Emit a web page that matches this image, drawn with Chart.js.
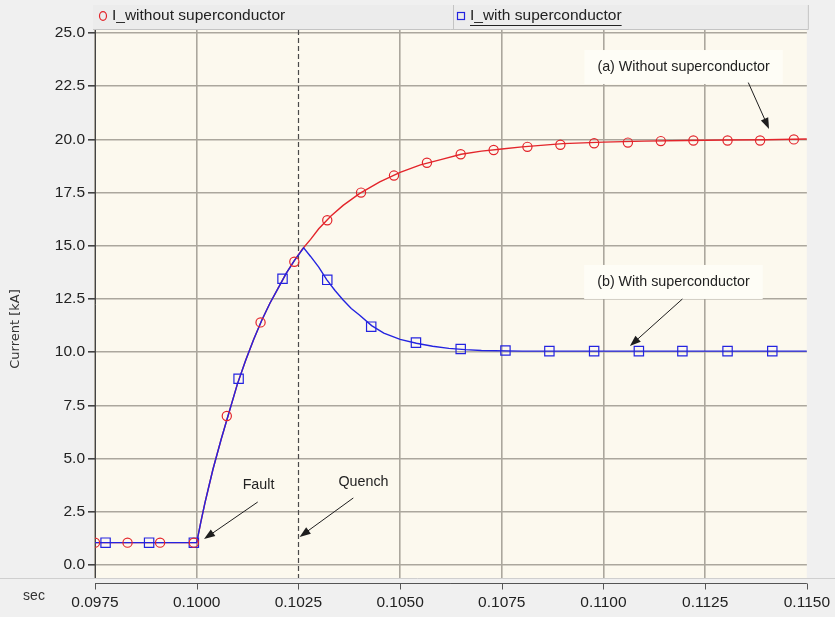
<!DOCTYPE html>
<html>
<head>
<meta charset="utf-8">
<script src="https://cdn.jsdelivr.net/npm/chart.js@4/dist/chart.umd.min.js"></script>
<style>
  html, body { margin: 0; padding: 0; background: #f0f0f0; }
  #wrap { position: relative; width: 835px; height: 617px; }
</style>
</head>
<body>
<div id="wrap"><canvas id="c" width="835" height="617"></canvas></div>
<script>
// Axis ticks
const timeTicks = [0.0975, 0.1000, 0.1025, 0.1050, 0.1075, 0.1100, 0.1125, 0.1150];
const currentTicks = [0, 2.5, 5, 7.5, 10, 12.5, 15, 17.5, 20, 22.5, 25];

const seriesNames = ['I_without superconductor', 'I_with superconductor'];

// Current without superconductor (solid trace)
const tWithout = [0.0975, 0.1000, 0.1001, 0.1002, 0.1003, 0.1004, 0.1006, 0.1008, 0.1010, 0.1012, 0.1014, 0.1016,
  0.1018, 0.1020, 0.1022, 0.1024, 0.1026, 0.1028, 0.1030, 0.1033, 0.1036, 0.1040, 0.1045, 0.1050,
  0.1055, 0.1060, 0.1065, 0.1070, 0.1075, 0.1080, 0.1090, 0.1100, 0.1110, 0.1120, 0.1130, 0.1140, 0.1150];
const iWithout = [1.05, 1.05, 2.0, 2.9, 3.7, 4.5, 5.9, 7.2, 8.5, 9.6, 10.6, 11.5,
  12.3, 13.0, 13.7, 14.3, 14.85, 15.3, 15.8, 16.4, 16.9, 17.45, 18.0, 18.45,
  18.8, 19.05, 19.3, 19.45, 19.55, 19.65, 19.8, 19.87, 19.92, 19.95, 19.97, 19.98, 20.02];

// Current with superconductor (solid trace)
const tWith = [0.0975, 0.1000, 0.1001, 0.1002, 0.1003, 0.1004, 0.1006, 0.1008, 0.1010, 0.1012, 0.1014, 0.1016,
  0.1018, 0.1020, 0.1022, 0.1024, 0.10263, 0.1028, 0.1030, 0.1032, 0.1034, 0.1036, 0.1038, 0.1040,
  0.1043, 0.1046, 0.1050, 0.1054, 0.1058, 0.1062, 0.1066, 0.1070, 0.1080, 0.1150];
const iWith = [1.05, 1.05, 2.0, 2.9, 3.7, 4.5, 5.9, 7.2, 8.5, 9.6, 10.6, 11.5,
  12.3, 13.0, 13.7, 14.3, 14.9, 14.5, 14.0, 13.4, 12.9, 12.45, 12.05, 11.75,
  11.25, 10.9, 10.6, 10.42, 10.28, 10.18, 10.12, 10.08, 10.05, 10.05];

// Sample markers along each trace
const tMarkWithout = [0.09750, 0.09830, 0.09910, 0.09993, 0.10074, 0.10157, 0.10240, 0.10321, 0.10404,
  0.10485, 0.10566, 0.10649, 0.10730, 0.10813, 0.10894, 0.10977, 0.11060, 0.11141, 0.11221, 0.11305,
  0.11385, 0.11468];
const iMarkWithout = [1.05, 1.05, 1.05, 1.05, 7.0, 11.4, 14.25, 16.2, 17.5,
  18.3, 18.9, 19.3, 19.5, 19.65, 19.75, 19.82, 19.85, 19.92, 19.95, 19.95,
  19.95, 20.0];
const tMarkWith = [0.09776, 0.09883, 0.09993, 0.10103, 0.10211, 0.10321, 0.10429, 0.10539, 0.10649,
  0.10759, 0.10867, 0.10977, 0.11087, 0.11194, 0.11305, 0.11415];
const iMarkWith = [1.05, 1.05, 1.05, 8.75, 13.45, 13.4, 11.2, 10.45, 10.15,
  10.08, 10.05, 10.05, 10.05, 10.05, 10.05, 10.05];

const quenchTime = 0.1025;

// Callout labels with arrows, placed in data coordinates
const notes = [
  { text: '(a) Without superconductor', at: [0.11197, 23.40], tail: [0.11356, 22.67], tip: [0.11407, 20.49], box: true },
  { text: '(b) With superconductor', at: [0.11172, 13.30], tail: [0.11194, 12.50], tip: [0.11065, 10.29], box: true },
  { text: 'Fault', at: [0.10152, 3.76], tail: [0.10150, 2.96], tip: [0.10018, 1.22], box: false },
  { text: 'Quench', at: [0.10410, 3.90], tail: [0.10385, 3.15], tip: [0.10253, 1.32], box: false }
];

const RED = '#e3252b';
const BLUE = '#2424e0';
const GRID = '#aba79d';
const PLOT_BG = '#fcf9ee';
const FONT = 'Liberation Sans';

const pts = (xs, ys) => xs.map((x, i) => ({ x: x, y: ys[i] }));

function arrow(ctx, x1, y1, x2, y2) {
  const a = Math.atan2(y2 - y1, x2 - x1);
  const len = 11, half = 4;
  ctx.beginPath();
  ctx.moveTo(x1, y1);
  ctx.lineTo(x2 - Math.cos(a) * len * 0.8, y2 - Math.sin(a) * len * 0.8);
  ctx.stroke();
  ctx.beginPath();
  ctx.moveTo(x2, y2);
  ctx.lineTo(x2 - Math.cos(a) * len - Math.sin(a) * half, y2 - Math.sin(a) * len + Math.cos(a) * half);
  ctx.lineTo(x2 - Math.cos(a) * len + Math.sin(a) * half, y2 - Math.sin(a) * len - Math.cos(a) * half);
  ctx.closePath();
  ctx.fill();
}

const decor = {
  id: 'decor',
  beforeDraw(chart) {
    const { ctx, chartArea: a } = chart;
    ctx.save();
    ctx.fillStyle = '#f0f0f0';
    ctx.fillRect(0, 0, chart.width, chart.height);
    ctx.fillStyle = PLOT_BG;
    ctx.fillRect(a.left, a.top, a.right - a.left, a.bottom - a.top);
    ctx.restore();
  },
  beforeDatasetsDraw(chart) {
    const { ctx, chartArea: a, scales: { x, y } } = chart;
    ctx.save();
    // quench instant
    const qx = Math.round(x.getPixelForValue(quenchTime)) + 0.5;
    ctx.strokeStyle = '#4a4a4a';
    ctx.lineWidth = 1.2;
    ctx.setLineDash([5, 3]);
    ctx.beginPath();
    ctx.moveTo(qx, a.top);
    ctx.lineTo(qx, a.bottom);
    ctx.stroke();
    ctx.setLineDash([]);
    // label backgrounds
    ctx.font = '14.3px "' + FONT + '"';
    notes.forEach(n => {
      if (!n.box) return;
      const w = ctx.measureText(n.text).width + 26;
      const cx = x.getPixelForValue(n.at[0]);
      const cy = y.getPixelForValue(n.at[1]);
      ctx.fillStyle = '#fefdf6';
      ctx.fillRect(cx - w / 2, cy - 17, w, 34);
    });
    ctx.restore();
  },
  afterDraw(chart) {
    const { ctx, chartArea: a, scales: { x, y } } = chart;
    ctx.save();
    // callouts
    ctx.strokeStyle = '#1e1e1e';
    ctx.fillStyle = '#1e1e1e';
    ctx.lineWidth = 1;
    notes.forEach(n => {
      arrow(ctx, x.getPixelForValue(n.tail[0]), y.getPixelForValue(n.tail[1]),
        x.getPixelForValue(n.tip[0]), y.getPixelForValue(n.tip[1]));
    });
    ctx.font = '14.3px "' + FONT + '"';
    ctx.textAlign = 'center';
    ctx.textBaseline = 'middle';
    ctx.fillStyle = '#222';
    notes.forEach(n => {
      ctx.fillText(n.text, x.getPixelForValue(n.at[0]), y.getPixelForValue(n.at[1]));
    });

    // bottom separator and time axis
    ctx.strokeStyle = '#cfcfcf';
    ctx.beginPath();
    ctx.moveTo(0, a.bottom + 0.5);
    ctx.lineTo(chart.width, a.bottom + 0.5);
    ctx.stroke();
    const axY = a.bottom + 5.5;
    ctx.strokeStyle = '#555';
    ctx.lineWidth = 1;
    ctx.beginPath();
    ctx.moveTo(x.getPixelForValue(timeTicks[0]), axY);
    ctx.lineTo(x.getPixelForValue(timeTicks[timeTicks.length - 1]), axY);
    timeTicks.forEach(t => {
      const px = Math.round(x.getPixelForValue(t)) + 0.5;
      ctx.moveTo(px, axY);
      ctx.lineTo(px, axY + 6);
    });
    ctx.stroke();
    ctx.fillStyle = '#333';
    ctx.font = '14px "' + FONT + '"';
    ctx.textAlign = 'center';
    ctx.fillText('sec', 34, 596);

    // vertical axis title
    ctx.save();
    ctx.translate(16, 329);
    ctx.rotate(-Math.PI / 2);
    ctx.font = '13px "DejaVu Sans"';
    ctx.fillStyle = '#333';
    ctx.fillText('Current [kA]', 0, 0);
    ctx.restore();

    // legend strip
    const lx0 = a.left - 2, lx1 = a.right + 1, ly0 = 5, ly1 = a.top - 1;
    ctx.fillStyle = '#ececec';
    ctx.fillRect(lx0, ly0, lx1 - lx0, ly1 - ly0);
    ctx.strokeStyle = '#c4c4c4';
    ctx.lineWidth = 1;
    ctx.beginPath();
    ctx.moveTo(lx0, ly1 + 0.5); ctx.lineTo(lx1 + 0.5, ly1 + 0.5); ctx.lineTo(lx1 + 0.5, ly0);
    ctx.moveTo(453.5, ly0); ctx.lineTo(453.5, ly1);
    ctx.stroke();
    const ly = 16;
    ctx.lineWidth = 1.2;
    ctx.strokeStyle = RED;
    ctx.beginPath();
    ctx.ellipse(103, ly, 3.5, 4.3, 0, 0, Math.PI * 2);
    ctx.stroke();
    ctx.strokeStyle = BLUE;
    ctx.strokeRect(457.5, ly - 3.5, 7, 7);
    ctx.font = '15.5px "' + FONT + '"';
    ctx.textAlign = 'left';
    ctx.fillStyle = '#222';
    ctx.fillText(seriesNames[0], 112, ly);
    ctx.fillText(seriesNames[1], 470, ly);
    const uw = ctx.measureText(seriesNames[1]).width;
    ctx.strokeStyle = '#222';
    ctx.lineWidth = 1;
    ctx.beginPath();
    ctx.moveTo(470, 25.5); ctx.lineTo(470 + uw, 25.5);
    ctx.stroke();
    ctx.restore();
  }
};

const gridColor = (c) => {
  if (!c.tick) return GRID;
  const v = c.tick.value;
  if (Math.abs(v - quenchTime) < 1e-9 || Math.abs(v - timeTicks[timeTicks.length - 1]) < 1e-9) return 'rgba(0,0,0,0)';
  return GRID;
};

new Chart(document.getElementById('c'), {
  type: 'line',
  data: {
    datasets: [
      { label: seriesNames[0] + ' markers', data: pts(tMarkWithout, iMarkWithout), showLine: false,
        pointStyle: 'circle', pointRadius: 4.6, borderColor: RED, backgroundColor: 'rgba(0,0,0,0)',
        pointBorderWidth: 1.2, order: 0 },
      { label: seriesNames[1] + ' markers', data: pts(tMarkWith, iMarkWith), showLine: false,
        pointStyle: 'rect', pointRadius: 6.6, borderColor: BLUE, backgroundColor: 'rgba(0,0,0,0)',
        pointBorderWidth: 1.2, order: 0 },
      { label: seriesNames[1], data: pts(tWith, iWith), borderColor: BLUE, borderWidth: 1.4,
        pointRadius: 0, tension: 0, order: 1 },
      { label: seriesNames[0], data: pts(tWithout, iWithout), borderColor: RED, borderWidth: 1.4,
        pointRadius: 0, tension: 0, order: 2 }
    ]
  },
  options: {
    responsive: false,
    animation: false,
    layout: { padding: { left: 0, right: 24, top: 30, bottom: 0 } },
    plugins: { legend: { display: false }, tooltip: { enabled: false } },
    scales: {
      x: {
        type: 'linear',
        min: timeTicks[0],
        max: timeTicks[timeTicks.length - 1],
        afterBuildTicks: (s) => { s.ticks = timeTicks.map(v => ({ value: v })); },
        afterFit: (s) => { s.height = 39; },
        border: { display: false },
        grid: { color: gridColor, lineWidth: 1.6, drawTicks: true, tickLength: 10, tickColor: 'rgba(0,0,0,0)' },
        ticks: { autoSkip: false, maxRotation: 0, padding: 5, color: '#222',
          font: { family: FONT, size: 15.5 }, callback: (v) => Number(v).toFixed(4) }
      },
      y: {
        type: 'linear',
        min: -0.61,
        max: 25.14,
        afterBuildTicks: (s) => { s.ticks = currentTicks.map(v => ({ value: v })); },
        afterFit: (s) => { s.width = 95; },
        border: { display: true, color: '#444', width: 1 },
        grid: { color: GRID, lineWidth: 1.6, drawTicks: true, tickLength: 7, tickColor: '#444' },
        ticks: { padding: 3, color: '#222', font: { family: FONT, size: 15.5 },
          callback: (v) => Number(v).toFixed(1) }
      }
    }
  },
  plugins: [decor]
});
</script>
</body>
</html>
